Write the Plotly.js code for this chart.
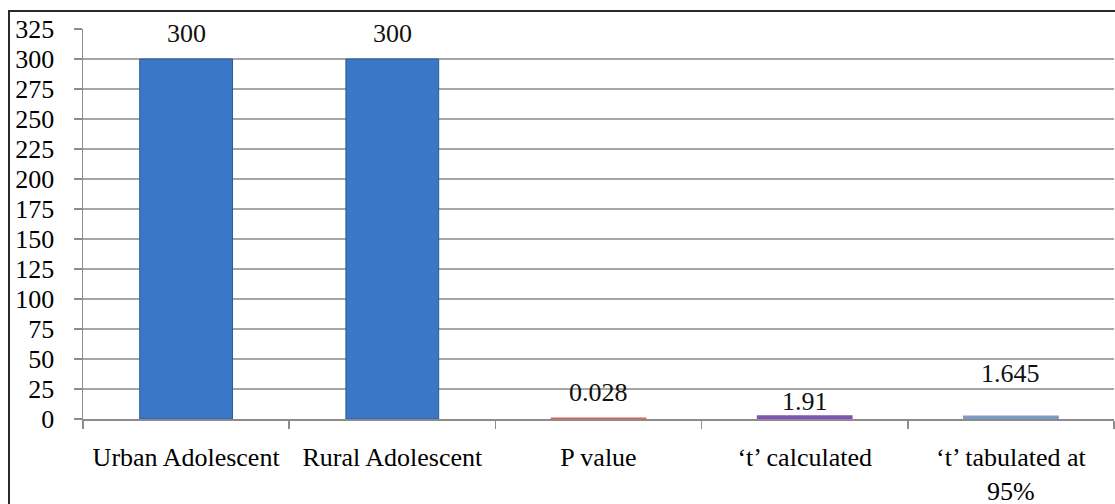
<!DOCTYPE html>
<html>
<head>
<meta charset="utf-8">
<script src="https://cdn.plot.ly/plotly-3.0.1.min.js"></script>
<style>
  html, body { margin: 0; padding: 0; background: #fff; }
  #wrap { position: relative; width: 1115px; height: 504px; overflow: hidden; }
  #frame { position: absolute; left: 8px; top: 10px; width: 1200px; height: 600px;
           border-left: 2px solid #2a2a2a; border-top: 2px solid #2a2a2a; }
  #chart { position: absolute; left: 0; top: 0; width: 1115px; height: 504px; }
</style>
</head>
<body>
<div id="wrap">
  <div id="frame"></div>
  <div id="chart"></div>
</div>
<script>
// ---- data ----
const categories = ["Urban Adolescent", "Rural Adolescent", "P value", "\u2018t\u2019 calculated", "\u2018t\u2019 tabulated at<br>95%"];
const values = [300, 300, 0.028, 1.91, 1.645];
const valueLabels = ["300", "300", "0.028", "1.91", "1.645"];
const yTickValues = [0, 25, 50, 75, 100, 125, 150, 175, 200, 225, 250, 275, 300, 325];

// ---- styles ----
const barColors = ["#3a77c6", "#3a77c6", "#e0605e", "#8352b2", "#7b9bc4"];
const barLineColors = ["#2c5c9a", "#2c5c9a", "#e0605e", "#8352b2", "#7b9bc4"];
const barLineWidths = [1, 1, 3, 3, 3];
const labelShift = [26, 26, 26, 15, 44];  // px above bar top (text centre), as placed in the original
const FONT = "Liberation Serif";

const trace = {
  type: "bar",
  x: categories,
  y: values,
  width: 0.45,
  marker: { color: barColors, line: { color: barLineColors, width: barLineWidths } },
  hoverinfo: "x+y"
};

const annotations = categories.map((c, i) => ({
  x: c, y: values[i], xref: "x", yref: "y",
  text: valueLabels[i], showarrow: false,
  xanchor: "center", yanchor: "middle", yshift: labelShift[i],
  font: { family: FONT, size: 26, color: "#111" }
}));

const layout = {
  width: 1115, height: 504,
  margin: { l: 83, r: 1, t: 29, b: 85, pad: 0 },
  paper_bgcolor: "rgba(0,0,0,0)",
  plot_bgcolor: "rgba(0,0,0,0)",
  showlegend: false,
  font: { family: FONT, size: 26, color: "#000" },
  xaxis: {
    type: "category",
    showgrid: false,
    showline: true, linecolor: "#8c8c8c", linewidth: 1.5,
    ticks: "outside", tickson: "boundaries", ticklen: 8, tickcolor: "#8c8c8c", tickwidth: 1.5,
    ticklabelstandoff: 14,
    tickfont: { family: FONT, size: 26, color: "#000" },
    fixedrange: true
  },
  yaxis: {
    range: [0, 325],
    tickmode: "array", tickvals: yTickValues, ticktext: yTickValues.map(String),
    showgrid: true, gridcolor: "#a6a6a6", gridwidth: 1.5,
    zeroline: false,
    showline: true, linecolor: "#8c8c8c", linewidth: 1.5,
    ticks: "outside", ticklen: 8, tickcolor: "#8c8c8c", tickwidth: 1.5,
    ticklabelstandoff: 14,
    tickfont: { family: FONT, size: 26, color: "#000" },
    fixedrange: true
  },
  annotations: annotations
};

Plotly.newPlot("chart", [trace], layout, { displayModeBar: false, staticPlot: true });
</script>
</body>
</html>
